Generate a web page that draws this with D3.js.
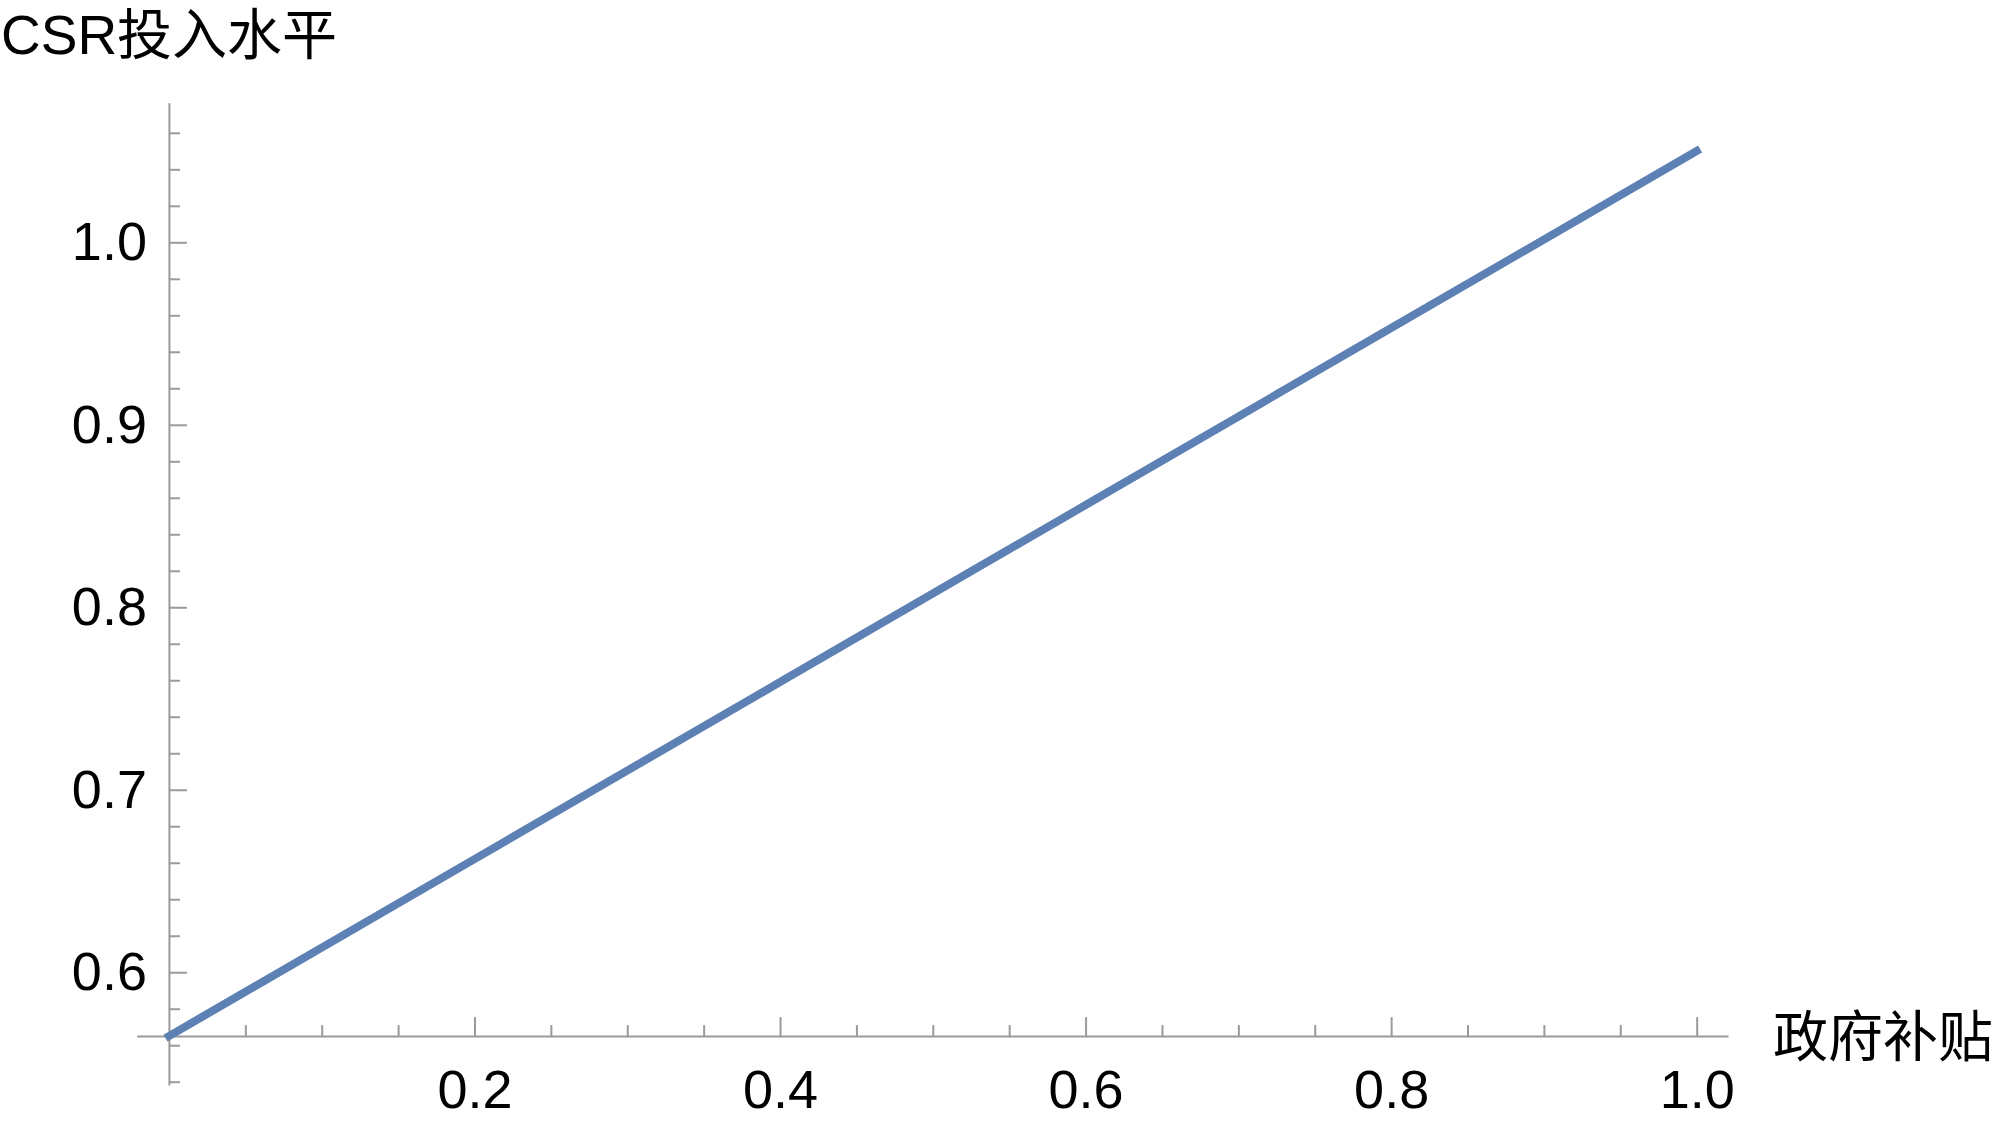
<!DOCTYPE html>
<html>
<head>
<meta charset="utf-8">
<script src="https://cdn.jsdelivr.net/npm/d3@7"></script>
<style>
  body { margin: 0; background: #fff; }
  svg { display: block; }
  .tick text { font-family: "Liberation Sans", Arial, sans-serif; font-size: 54px; fill: #000; }
  .lbl { font-family: "Liberation Sans", "Noto Sans CJK SC", sans-serif; font-size: 55px; fill: #000; }
</style>
</head>
<body>
<svg width="2000" height="1129"></svg>
<script>
// values
var subsidy = [0, 0.2, 0.4, 0.6, 0.8, 1.0];
var csrLevel = [0.565, 0.662, 0.759, 0.856, 0.953, 1.050];

var xMajorTicks = [0.2, 0.4, 0.6, 0.8, 1.0];
var xTickLabels = ["0.2", "0.4", "0.6", "0.8", "1.0"];
var xMinorTicks = [0.05, 0.1, 0.15, 0.25, 0.3, 0.35, 0.45, 0.5, 0.55, 0.65, 0.7, 0.75, 0.85, 0.9, 0.95];
var yMajorTicks = [0.6, 0.7, 0.8, 0.9, 1.0];
var yTickLabels = ["0.6", "0.7", "0.8", "0.9", "1.0"];
var yMinorTicks = [0.54, 0.56, 0.58, 0.62, 0.64, 0.66, 0.68, 0.72, 0.74, 0.76, 0.78,
                   0.82, 0.84, 0.86, 0.88, 0.92, 0.94, 0.96, 0.98, 1.02, 1.04, 1.06];

var xTitle = "政府补贴";
var yTitle = "CSR投入水平";
var axesOrigin = [0, 0.565];

var svg = d3.select("svg");

var x = d3.scaleLinear().domain([-0.0211, 1.0205]).range([136.7, 1728]);
var y = d3.scaleLinear().domain([0.5382, 1.0765]).range([1085, 102.7]);

var axisColor = "#9a9a9a";

// y axis
var gy = svg.append("g").attr("transform", "translate(" + x(axesOrigin[0]) + ",0)");
gy.call(d3.axisLeft(y).tickValues(yMajorTicks)
    .tickFormat(function(d, i) { return yTickLabels[i]; })
    .tickSizeInner(-18).tickSizeOuter(0).tickPadding(22));
gy.append("g").call(d3.axisLeft(y).tickValues(yMinorTicks).tickFormat("")
    .tickSizeInner(-11).tickSizeOuter(0))
  .select(".domain").remove();

// x axis
var gx = svg.append("g").attr("transform", "translate(0," + y(axesOrigin[1]) + ")");
gx.call(d3.axisBottom(x).tickValues(xMajorTicks)
    .tickFormat(function(d, i) { return xTickLabels[i]; })
    .tickSizeInner(-19).tickSizeOuter(0).tickPadding(34));
gx.append("g").call(d3.axisBottom(x).tickValues(xMinorTicks).tickFormat("")
    .tickSizeInner(-11).tickSizeOuter(0))
  .select(".domain").remove();

svg.selectAll(".domain, .tick line")
  .attr("stroke", axisColor)
  .attr("stroke-width", 2);
svg.selectAll(".tick text").attr("font-family", null).attr("font-size", null);

// line
var line = d3.line()
  .x(function(d, i) { return x(subsidy[i]); })
  .y(function(d) { return y(d); });

svg.append("path")
  .datum(csrLevel)
  .attr("d", line)
  .attr("fill", "none")
  .attr("stroke", "#5e81b5")
  .attr("stroke-width", 8)
  .attr("stroke-linecap", "square");

// axis titles
svg.append("text")
  .attr("class", "lbl")
  .attr("x", 1)
  .attr("y", 54)
  .text(yTitle);

svg.append("text")
  .attr("class", "lbl")
  .attr("x", 1773)
  .attr("y", y(axesOrigin[1]) + 1)
  .attr("dominant-baseline", "central")
  .text(xTitle);
</script>
</body>
</html>
